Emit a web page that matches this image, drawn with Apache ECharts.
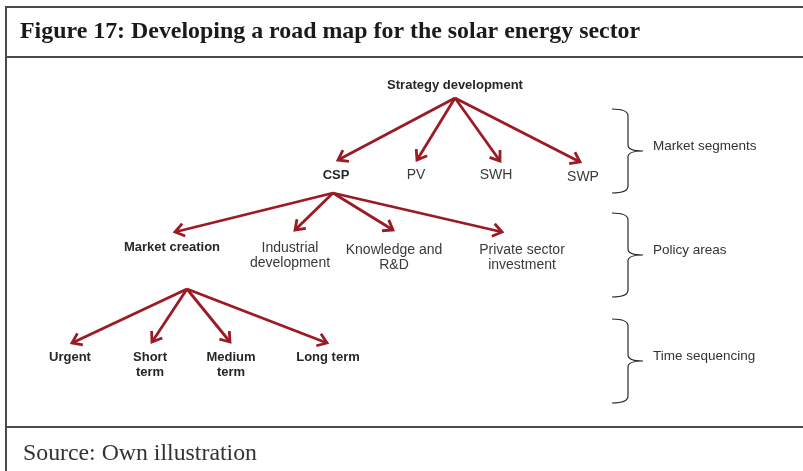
<!DOCTYPE html>
<html>
<head>
<meta charset="utf-8">
<script src="https://cdn.jsdelivr.net/npm/echarts@6/dist/echarts.min.js"></script>
<style>
html,body{margin:0;padding:0;background:#fff;}
#chart{width:803px;height:471px;}
</style>
</head>
<body>
<div id="chart"></div>
<script>
// ---- Data ----
const titleText = 'Figure 17: Developing a road map for the solar energy sector';
const sourceText = 'Source: Own illustration';

// Diagram nodes (labels) in diagram units
const nodeNames = ['Strategy development', 'CSP', 'PV', 'SWH', 'SWP',
  'Market creation', 'Industrial\ndevelopment', 'Knowledge and\nR&D', 'Private sector\ninvestment',
  'Urgent', 'Short\nterm', 'Medium\nterm', 'Long term'];
const nodeBold = [1, 1, 0, 0, 0, 1, 0, 0, 0, 1, 1, 1, 1];
const nodeX = [455, 336, 416, 496, 583, 172, 290, 394, 522, 70, 150, 231, 328];
const nodeY = [85, 175, 175, 175, 177, 247, 255.5, 257.5, 258, 357, 364.5, 364.5, 357];
const nodeParent = [-1, 0, 0, 0, 0, 1, 1, 1, 1, 5, 5, 5, 5];
// Where each child's arrow ends
const arrowTipX = [null, 338, 417, 500, 580, 175, 295, 393, 502, 72, 152, 230, 327];
const arrowTipY = [null, 160, 160, 161, 162, 232, 230, 230, 232, 343, 342, 342, 343];
// Where arrows leave each parent (branch points)
const branchNode = [0, 1, 5];
const branchX = [455, 333, 187];
const branchY = [98, 193, 289];

// Brackets on the right
const bracketLabels = ['Market segments', 'Policy areas', 'Time sequencing'];
const bracketTop = [109, 213, 319];
const bracketBottom = [193, 297, 403];
const bracketMid = [151, 255, 361];

// ---- Build ----
const arrowColor = '#9B1A23';
const edges = [];
nodeParent.forEach((p, i) => {
  if (p < 0) return;
  const b = branchNode.indexOf(p);
  edges.push([branchX[b], branchY[b], arrowTipX[i], arrowTipY[i]]);
});

const labelData = nodeNames.map((n, i) => ({ name: n, value: [nodeX[i], nodeY[i], nodeBold[i]] }));

const bracketData = bracketLabels.map((l, i) => ({
  name: l, value: [bracketTop[i], bracketBottom[i], bracketMid[i]]
}));

const chart = echarts.init(document.getElementById('chart'), null, { renderer: 'canvas' });

const frameColor = '#4a4a4a';
chart.setOption({
  animation: false,
  backgroundColor: '#ffffff',
  grid: { left: 0, right: 0, top: 0, bottom: 0 },
  xAxis: { type: 'value', min: 0, max: 803, show: false },
  yAxis: { type: 'value', min: 0, max: 471, inverse: true, show: false },
  graphic: [
    { type: 'line', shape: { x1: 6, y1: 7, x2: 803, y2: 7 }, style: { stroke: frameColor, lineWidth: 2 }, silent: true },
    { type: 'line', shape: { x1: 6, y1: 57, x2: 803, y2: 57 }, style: { stroke: frameColor, lineWidth: 2 }, silent: true },
    { type: 'line', shape: { x1: 6, y1: 427, x2: 803, y2: 427 }, style: { stroke: frameColor, lineWidth: 2 }, silent: true },
    { type: 'line', shape: { x1: 6, y1: 6, x2: 6, y2: 471 }, style: { stroke: frameColor, lineWidth: 2 }, silent: true },
    { type: 'text', x: 20, y: 32, silent: true,
      style: { text: titleText, font: 'bold 23.9px "Liberation Serif", "Times New Roman", serif', fill: '#1a1a1a', verticalAlign: 'middle', align: 'left' } },
    { type: 'text', x: 23, y: 454, silent: true,
      style: { text: sourceText, font: '23.8px "Liberation Serif", "Times New Roman", serif', fill: '#333333', verticalAlign: 'middle', align: 'left' } }
  ],
  series: [
    {
      type: 'custom',
      name: 'arrows',
      silent: true,
      data: edges,
      renderItem: function (params, api) {
        const p1 = api.coord([api.value(0), api.value(1)]);
        const p2 = api.coord([api.value(2), api.value(3)]);
        const ang = Math.atan2(p2[1] - p1[1], p2[0] - p1[0]);
        const L = 11, spread = 0.62;
        const h1 = [p2[0] - L * Math.cos(ang - spread), p2[1] - L * Math.sin(ang - spread)];
        const h2 = [p2[0] - L * Math.cos(ang + spread), p2[1] - L * Math.sin(ang + spread)];
        const st = { stroke: arrowColor, lineWidth: 2.8, fill: null, lineJoin: 'miter', lineCap: 'butt' };
        return {
          type: 'group',
          children: [
            { type: 'line', shape: { x1: p1[0], y1: p1[1], x2: p2[0], y2: p2[1] }, style: st },
            { type: 'polyline', shape: { points: [h1, p2, h2] }, style: st }
          ]
        };
      }
    },
    {
      type: 'custom',
      name: 'brackets',
      silent: true,
      data: bracketData,
      renderItem: function (params, api) {
        const top = api.value(0), bot = api.value(1), mid = api.value(2);
        const xL = 612, xS = 628, xP = 643;
        const c = (x, y) => api.coord([x, y]);
        const a = c(xL, top), b = c(xS, top), d = c(xS, top + 7);
        const e = c(xS, mid - 6), f = c(xS, mid), g = c(xP, mid);
        const h = c(xS, mid + 6), k = c(xS, bot - 7), m = c(xS, bot), n = c(xL, bot);
        const path = 'M' + a + ' Q' + b + ' ' + d + ' L' + e + ' Q' + f + ' ' + g +
          ' Q' + f + ' ' + h + ' L' + k + ' Q' + m + ' ' + n;
        const lbl = c(xP + 10, mid - 5);
        return {
          type: 'group',
          children: [
            { type: 'path', shape: { pathData: path.replace(/,/g, ' ') }, style: { stroke: '#2a2a2a', lineWidth: 1.2, fill: null } },
            { type: 'text', x: lbl[0], y: lbl[1],
              style: { text: bracketLabels[params.dataIndex], font: '13.5px "Liberation Sans", Arial, sans-serif', fill: '#333333', verticalAlign: 'middle', align: 'left' } }
          ]
        };
      }
    },
    {
      type: 'custom',
      name: 'nodes',
      silent: true,
      data: labelData,
      renderItem: function (params, api) {
        const p = api.coord([api.value(0), api.value(1)]);
        const bold = api.value(2) === 1;
        return {
          type: 'text', x: p[0], y: p[1],
          style: {
            text: nodeNames[params.dataIndex],
            font: bold ? 'bold 13px "Liberation Sans", Arial, sans-serif' : '14px "Liberation Sans", Arial, sans-serif',
            fill: bold ? '#262626' : '#3a3a3a',
            lineHeight: 15,
            align: 'center',
            verticalAlign: 'middle'
          }
        };
      }
    }
  ]
});
</script>
</body>
</html>
